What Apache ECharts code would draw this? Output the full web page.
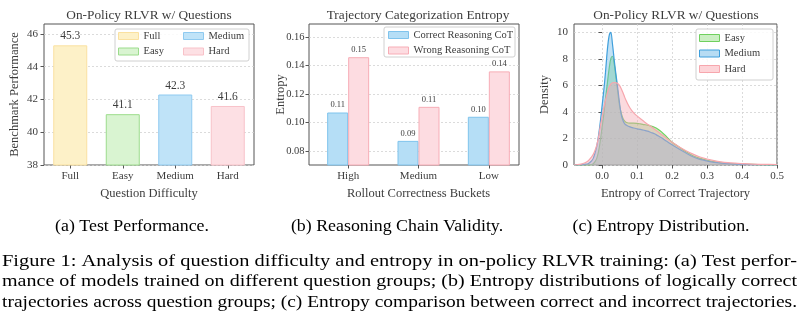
<!DOCTYPE html>
<html>
<head>
<meta charset="utf-8">
<script src="https://cdn.jsdelivr.net/npm/echarts@6/dist/echarts.min.js"></script>
<style>
  html, body { margin: 0; padding: 0; background: #fff; }
  #main { width: 808px; height: 328px; }
</style>
</head>
<body>
<div id="main"></div>
<script>
// ---- (a) benchmark performance by training question group ----
const difficultyCats = ['Full', 'Easy', 'Medium', 'Hard'];
const benchmarkScores = [45.3, 41.1, 42.3, 41.6];
const perfTicks = [38, 40, 42, 44, 46];

// ---- (b) entropy of correct / wrong reasoning per rollout bucket ----
const bucketCats = ['High', 'Medium', 'Low'];
const correctEntropy = [0.107, 0.087, 0.104];
const wrongEntropy = [0.146, 0.111, 0.136];
const entropyTicks = [0.08, 0.10, 0.12, 0.14, 0.16];

// ---- (c) entropy density of correct trajectories ----
const entropyGrid = [-0.08, -0.07, -0.06, -0.05, -0.04, -0.03,
  -0.025, -0.02, -0.015, -0.01, -0.005, 0, 0.005, 0.01, 0.015, 0.02,
  0.025, 0.03, 0.035, 0.04, 0.045, 0.05, 0.055, 0.06, 0.065, 0.07,
  0.08, 0.09, 0.10, 0.11, 0.12, 0.13, 0.14, 0.15, 0.16, 0.17, 0.18, 0.19, 0.20,
  0.22, 0.24, 0.26, 0.28, 0.30, 0.32, 0.34, 0.36, 0.38, 0.40,
  0.43, 0.46, 0.50];
const densityEasy = [0, 0, 0, 0, 0.01, 0.03,
  0.1, 0.25, 0.5, 1.0, 1.8, 2.8, 3.8, 5.0, 6.1, 7.2,
  8.0, 8.2, 7.6, 6.6, 5.5, 4.5, 3.9, 3.5, 3.3, 3.2,
  3.15, 3.15, 3.14, 3.1, 3.05, 3.0, 2.93, 2.85, 2.7, 2.5, 2.25, 1.98, 1.72,
  1.35, 1.0, 0.7, 0.5, 0.36, 0.25, 0.17, 0.12, 0.09, 0.06,
  0.04, 0.02, 0.01];
const densityMedium = [0, 0.01, 0.02, 0.05, 0.1, 0.3,
  0.5, 0.9, 1.4, 2.2, 3.2, 4.4, 5.6, 7.0, 8.6, 9.7,
  10.0, 9.1, 7.9, 6.8, 5.8, 4.7, 3.8, 3.35, 3.1, 3.0,
  2.87, 2.79, 2.73, 2.68, 2.62, 2.55, 2.45, 2.35, 2.2, 2.05, 1.87, 1.7, 1.52,
  1.2, 0.9, 0.62, 0.42, 0.3, 0.2, 0.14, 0.1, 0.07, 0.05,
  0.03, 0.02, 0.01];
const densityHard = [0.01, 0.03, 0.07, 0.15, 0.3, 0.6,
  0.8, 1.1, 1.5, 2.1, 2.9, 3.6, 4.3, 4.9, 5.4, 5.85,
  6.1, 6.2, 6.22, 6.2, 6.15, 6.0, 5.75, 5.45, 5.1, 4.8,
  4.3, 3.95, 3.7, 3.48, 3.28, 3.08, 2.9, 2.7, 2.5, 2.3, 2.1, 1.9, 1.72,
  1.38, 1.08, 0.82, 0.6, 0.45, 0.33, 0.24, 0.18, 0.14, 0.11,
  0.07, 0.05, 0.03];
const densityXTicks = [0, 0.1, 0.2, 0.3, 0.4, 0.5];
const densityYTicks = [0, 2, 4, 6, 8, 10];

// ---- text ----
const subCaptions = ['(a) Test Performance.', '(b) Reasoning Chain Validity.', '(c) Entropy Distribution.'];
const captionLines = [
  'Figure 1: Analysis of question difficulty and entropy in on-policy RLVR training: (a) Test perfor-',
  'mance of models trained on different question groups; (b) Entropy distributions of logically correct',
  'trajectories across question groups; (c) Entropy comparison between correct and incorrect trajectories.'
];

// ---- styling ----
const SERIF = '"Liberation Serif", "DejaVu Serif", serif';
const INK = '#3c3c3c';
const FRAME = '#555555';
const GRIDLINE = { color: '#d2d2d2', width: 0.8, type: [2, 2] };

const perfColors = [
  { fill: '#fdf1c8', edge: '#fae1a0' },
  { fill: '#d9f4d1', edge: '#9cdc8c' },
  { fill: '#bfe3f8', edge: '#8fcaf0' },
  { fill: '#fde0e4', edge: '#f8c2c9' }
];
const correctColor = { fill: '#b5def6', edge: '#7fc3ec' };
const wrongColor = { fill: '#fddce1', edge: '#f7adb6' };
const densityColors = [
  { line: '#6fd05e', fill: '#80d874', swatch: '#cbefc3' },
  { line: '#3f9fdc', fill: '#6cb8e8', swatch: '#b7dcf3' },
  { line: '#f7a6ad', fill: '#f6a8b0', swatch: '#fdd4d8' }
];

const tickLabel = (fmt, custom, size = 11, margin = 6) => ({
  color: INK, fontFamily: SERIF, fontSize: size, margin,
  customValues: custom, formatter: fmt
});
const tickMark = (custom) => ({
  show: true, length: 3.5, inside: false,
  lineStyle: { color: FRAME, width: 1 },
  customValues: custom
});
const axisName = { color: INK, fontFamily: SERIF, fontSize: 12.5 };

const chart = echarts.init(document.getElementById('main'), null, { renderer: 'canvas' });

// panel frames: (a) grid 0, (b) frame grid 1 + bar grid 2, (c) grid 3
const grids = [
  { left: 44, top: 24, width: 210, height: 141, show: true, borderColor: FRAME, borderWidth: 1, backgroundColor: 'transparent' },
  { left: 309, top: 24, width: 210, height: 141, show: true, borderColor: FRAME, borderWidth: 1, backgroundColor: 'transparent' },
  { left: 313, top: 24, width: 211, height: 141, show: false },
  { left: 574, top: 24, width: 203, height: 141, show: true, borderColor: FRAME, borderWidth: 1, backgroundColor: 'transparent' }
];

const xAxes = [
  { gridIndex: 0, type: 'category', data: difficultyCats,
    axisLine: { show: false }, axisTick: { show: true, alignWithLabel: true, length: 3.5, lineStyle: { color: FRAME } },
    axisLabel: { color: INK, fontFamily: SERIF, fontSize: 11, margin: 6 },
    name: 'Question Difficulty', nameLocation: 'middle', nameGap: 22, nameMoveOverlap: false, nameTextStyle: axisName },
  { gridIndex: 1, type: 'value', min: 0, max: 1, show: false },
  { gridIndex: 2, type: 'category', data: bucketCats,
    axisLine: { show: false }, axisTick: { show: true, alignWithLabel: true, length: 3.5, lineStyle: { color: FRAME } },
    axisLabel: { color: INK, fontFamily: SERIF, fontSize: 11, margin: 6 },
    name: 'Rollout Correctness Buckets', nameLocation: 'middle', nameGap: 22, nameMoveOverlap: false, nameTextStyle: axisName },
  { gridIndex: 3, type: 'value', min: -0.08, max: 0.5,
    axisLine: { show: false }, axisTick: tickMark(densityXTicks),
    axisLabel: tickLabel(v => v.toFixed(1), densityXTicks),
    splitLine: { show: true, lineStyle: GRIDLINE },
    name: 'Entropy of Correct Trajectory', nameLocation: 'middle', nameGap: 22, nameMoveOverlap: false, nameTextStyle: axisName }
];

const yAxes = [
  { gridIndex: 0, type: 'value', min: 38, max: 46.6,
    axisLine: { show: false }, axisTick: tickMark(perfTicks),
    axisLabel: tickLabel(v => String(v), perfTicks),
    splitLine: { show: true, lineStyle: GRIDLINE },
    name: 'Benchmark Performance', nameLocation: 'middle', nameGap: 23, nameMoveOverlap: false, nameTextStyle: axisName },
  { gridIndex: 1, type: 'value', min: 0.07, max: 0.1694,
    axisLine: { show: false }, axisTick: tickMark(entropyTicks),
    axisLabel: tickLabel(v => v.toFixed(2), entropyTicks, 10.5, 4.5),
    splitLine: { show: true, lineStyle: GRIDLINE },
    name: 'Entropy', nameLocation: 'middle', nameGap: 22, nameMoveOverlap: false, nameTextStyle: axisName },
  { gridIndex: 2, type: 'value', min: 0.07, max: 0.1694, show: false },
  { gridIndex: 3, type: 'value', min: 0, max: 10.63,
    axisLine: { show: false }, axisTick: tickMark(densityYTicks),
    axisLabel: tickLabel(v => String(v), densityYTicks),
    splitLine: { show: true, lineStyle: GRIDLINE },
    name: 'Density', nameLocation: 'middle', nameGap: 23, nameMoveOverlap: false, nameTextStyle: axisName }
];

const series = [];

// (a) one series per group so each bar gets its own legend entry
difficultyCats.forEach((cat, i) => {
  series.push({
    name: cat, type: 'bar', xAxisIndex: 0, yAxisIndex: 0,
    barWidth: 34, barGap: '-100%',
    data: difficultyCats.map((_, j) => (j === i ? benchmarkScores[i] : '-')),
    itemStyle: { color: perfColors[i].fill, borderColor: perfColors[i].edge, borderWidth: 1 },
    label: { show: true, position: 'top', distance: 3, color: INK, fontFamily: SERIF, fontSize: 11.5,
      formatter: p => p.value.toFixed(1) }
  });
});

// (b) grouped bars
[['Correct Reasoning CoT', correctEntropy, correctColor], ['Wrong Reasoning CoT', wrongEntropy, wrongColor]]
  .forEach(([name, vals, col]) => {
    series.push({
      name, type: 'bar', xAxisIndex: 2, yAxisIndex: 2,
      barWidth: 21, barGap: '0%',
      data: vals,
      itemStyle: { color: col.fill, borderColor: col.edge, borderWidth: 1 },
      label: { show: true, position: 'top', distance: 3, color: INK, fontFamily: SERIF, fontSize: 8.5,
        formatter: p => p.value.toFixed(2) }
    });
  });

// (c) filled density curves
[['kde-Easy', densityEasy], ['kde-Medium', densityMedium], ['kde-Hard', densityHard]]
  .forEach(([name, ys], i) => {
    series.push({
      name, type: 'line', xAxisIndex: 3, yAxisIndex: 3,
      data: entropyGrid.map((x, k) => [x, ys[k]]),
      smooth: 0.35, showSymbol: false, symbol: 'none',
      lineStyle: { color: densityColors[i].line, width: 1.2 },
      itemStyle: { color: densityColors[i].line },
      areaStyle: { color: densityColors[i].fill, opacity: 0.42 },
      z: 2 + i
    });
  });

const legendText = { color: INK, fontFamily: SERIF, fontSize: 10.5, lineHeight: 12 };
const legendBase = { orient: 'vertical', itemWidth: 20, itemHeight: 7, itemGap: 3.5, icon: 'rect',
  padding: 0, textStyle: legendText, selectedMode: false };
const legends = [
  Object.assign({}, legendBase, { left: 118, top: 30, data: [0, 1].map(i => ({
    name: difficultyCats[i], itemStyle: { color: perfColors[i].fill, borderColor: perfColors[i].edge, borderWidth: 1 } })) }),
  Object.assign({}, legendBase, { left: 183, top: 30, data: [2, 3].map(i => ({
    name: difficultyCats[i], itemStyle: { color: perfColors[i].fill, borderColor: perfColors[i].edge, borderWidth: 1 } })) }),
  Object.assign({}, legendBase, { left: 388, top: 29, data: [
    { name: 'Correct Reasoning CoT', itemStyle: { color: correctColor.fill, borderColor: correctColor.edge, borderWidth: 1 } },
    { name: 'Wrong Reasoning CoT', itemStyle: { color: wrongColor.fill, borderColor: wrongColor.edge, borderWidth: 1 } }] }),
  Object.assign({}, legendBase, { left: 699, top: 32, formatter: n => n.replace('kde-', ''),
    data: ['kde-Easy', 'kde-Medium', 'kde-Hard'].map((n, i) => ({
      name: n, itemStyle: { color: densityColors[i].swatch, borderColor: densityColors[i].line, borderWidth: 1 } })) })
];

// graphic layer: titles, legend boxes, sub-captions and the figure caption
const graphics = [];
const titleFont = '13.3px ' + SERIF;
[['On-Policy RLVR w/ Questions', 149], ['Trajectory Categorization Entropy', 418], ['On-Policy RLVR w/ Questions', 676]]
  .forEach(([t, x]) => graphics.push({ type: 'text', x, y: 15.5, z: 5,
    style: { text: t, font: titleFont, fill: INK, align: 'center', verticalAlign: 'middle' } }));

[[115, 29, 134, 32], [384, 27, 131, 30], [696, 29, 77, 51]].forEach(([x, y, w, h]) =>
  graphics.push({ type: 'rect', z: 3, shape: { x, y, width: w, height: h, r: 2 },
    style: { fill: 'rgba(255,255,255,0.85)', stroke: '#d0d0d0', lineWidth: 1 } }));

const subFont = '16.4px "Liberation Serif", "Times New Roman", serif';
[132, 397, 661].forEach((x, i) => graphics.push({ type: 'text', x, y: 227, scaleX: 1.09, z: 5,
  style: { text: subCaptions[i], font: subFont, fill: '#000', align: 'center', verticalAlign: 'middle' } }));

// caption lines fill the full text width; each line is stretched horizontally to fit
const capFont = '17.6px "Liberation Serif", "Times New Roman", serif';
const measureCtx = document.createElement('canvas').getContext('2d');
measureCtx.font = capFont;
const capLeft = 2, capRight = 797;
captionLines.forEach((line, li) => {
  const natural = measureCtx.measureText(line).width;
  const sx = (capRight - capLeft) / natural;
  graphics.push({ type: 'text', x: capLeft, y: 261 + li * 20.6, scaleX: sx, z: 5,
    style: { text: line, font: capFont, fill: '#000', align: 'left', verticalAlign: 'middle' } });
});

chart.setOption({
  animation: false,
  backgroundColor: '#fff',
  grid: grids,
  xAxis: xAxes,
  yAxis: yAxes,
  legend: legends,
  series,
  graphic: { elements: graphics }
});
</script>
</body>
</html>
